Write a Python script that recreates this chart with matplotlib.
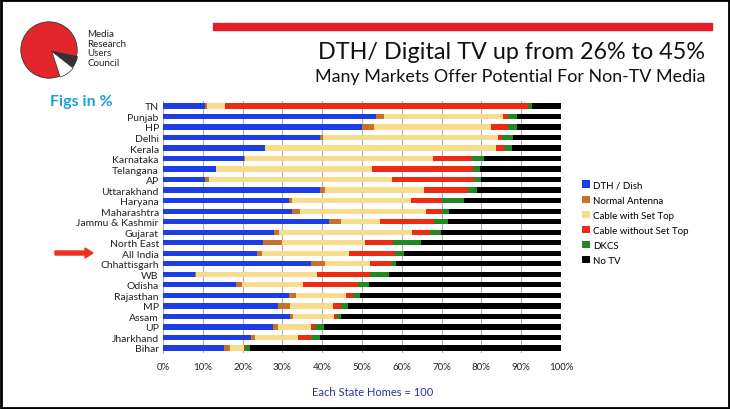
import numpy as np
import matplotlib
matplotlib.use("Agg")
import matplotlib.pyplot as plt
from matplotlib.patches import Rectangle, Wedge, Circle, FancyArrow

plt.rcParams['font.family'] = ['Lato', 'DejaVu Sans']

# DATA (percent of homes, each state = 100)
states = ["TN", "Punjab", "HP", "Delhi", "Kerala", "Karnataka", "Telangana", "AP",
          "Uttarakhand", "Haryana", "Maharashtra", "Jammu & Kashmir", "Gujarat",
          "North East", "All India", "Chhattisgarh", "WB", "Odisha", "Rajasthan",
          "MP", "Assam", "UP", "Jharkhand", "Bihar"]

dth_dish = [10.6, 53.5, 50.0, 39.4, 25.7, 20.3, 13.4, 10.5, 39.4, 31.7, 32.3, 41.7,
            27.8, 25.1, 23.5, 37.3, 8.0, 18.3, 31.7, 28.8, 31.8, 27.6, 22.2, 15.3]
normal_antenna = [0.4, 2.0, 3.1, 0.7, 0.0, 0.2, 0.0, 1.1, 1.3, 0.8, 2.2, 3.0,
                  1.4, 4.8, 1.4, 3.3, 0.4, 1.6, 1.7, 3.1, 0.9, 1.2, 1.0, 1.6]
cable_set_top = [4.7, 29.9, 29.2, 44.0, 58.0, 47.4, 39.2, 46.0, 24.9, 29.8, 31.6, 9.8,
                 33.3, 20.8, 21.9, 11.3, 30.2, 15.3, 12.5, 10.8, 10.3, 8.5, 10.8, 3.4]
cable_no_set_top = [76.0, 1.2, 4.5, 1.0, 2.3, 9.7, 25.2, 20.9, 11.1, 7.9, 4.1, 13.6,
                    4.5, 7.2, 11.6, 5.5, 13.5, 13.8, 1.8, 2.1, 0.8, 1.0, 3.1, 0.4]
dkcs = [1.0, 2.3, 2.1, 2.8, 1.7, 3.0, 1.9, 1.3, 2.3, 5.4, 1.6, 3.5,
        2.9, 6.9, 2.1, 1.2, 4.8, 2.8, 1.7, 1.7, 0.9, 2.2, 2.3, 1.1]
no_tv = [7.3, 11.1, 11.1, 12.1, 12.3, 19.4, 20.3, 20.2, 21.0, 24.4, 28.2, 28.4,
         30.1, 35.2, 39.5, 41.4, 43.1, 48.2, 50.6, 53.5, 55.3, 59.5, 60.6, 78.2]

series_names = ["DTH / Dish", "Normal Antenna", "Cable with Set Top",
                "Cable without Set Top", "DKCS", "No TV"]
series = [dth_dish, normal_antenna, cable_set_top, cable_no_set_top, dkcs, no_tv]
colors = ["#1c3ce6", "#c8702a", "#f8dc8e", "#ee2a12", "#1f8a22", "#000000"]

fig = plt.figure(figsize=(7.3, 4.1), dpi=100)
fig.patch.set_facecolor("white")

# main chart
ax = fig.add_axes([0.2233, 0.136, 0.5452, 0.616])
y = np.arange(len(states))
left = np.zeros(len(states))
for name, vals, col in zip(series_names, series, colors):
    vals = np.array(vals)
    ax.barh(y, vals, left=left, height=0.5, color=col, label=name, zorder=3)
    left += vals

ax.set_xlim(0, 100)
ax.set_ylim(len(states) - 0.5, -0.5)
ax.set_yticks(y)
ax.set_yticklabels(states, fontsize=7.5, color="#222222")
ax.set_xticks(np.arange(0, 101, 10))
ax.set_xticklabels([f"{v}%" for v in range(0, 101, 10)], fontsize=7, color="#222222")
ax.grid(axis="x", color="#b0b0b0", linewidth=0.8, zorder=0)
for s in ["top", "right", "bottom"]:
    ax.spines[s].set_visible(False)
ax.spines["left"].set_color("#b0b0b0")
ax.tick_params(axis="y", length=0, pad=3)
ax.tick_params(axis="x", length=0, pad=6)

fig.text(0.511, 0.043, "Each State Homes = 100", fontsize=8, color="#2e3192",
         ha="center", va="center")

# legend
handles, labels = ax.get_legend_handles_labels()
fig.legend(handles, labels, loc="upper left", bbox_to_anchor=(0.792, 0.567),
           frameon=False, fontsize=7, handlelength=0.8, handleheight=0.8,
           handletextpad=0.3, labelspacing=0.62, borderaxespad=0)

# header
fig.patches.append(Rectangle((213 / 730, 1 - 31 / 410), 499 / 730, 7 / 410,
                             transform=fig.transFigure, color="#e3202a"))
fig.text(0.966, 0.872, "DTH/ Digital TV up from 26% to 45%", fontsize=16.8,
         ha="right", va="center", color="#111111")
fig.text(0.966, 0.813, "Many Markets Offer Potential For Non-TV Media", fontsize=12.9,
         ha="right", va="center", color="#111111")
fig.text(0.068, 0.752, "Figs in %", fontsize=11.5, fontweight="bold",
         color="#1aa0dc", ha="left", va="center")

# logo
lax = fig.add_axes([18 / 730, 1 - 82 / 410, 62 / 730, 62 / 410])
lax.set_xlim(-1.1, 1.1)
lax.set_ylim(-1.1, 1.1)
lax.set_aspect("equal")
lax.axis("off")
lax.add_patch(Circle((0, 0), 1.0, facecolor="#e2262c", edgecolor="#333333", linewidth=0.6))
lax.add_patch(Wedge((0.1, -0.05), 0.92, -38, -12, color="#333333"))
lax.add_patch(Wedge((0.1, -0.05), 0.96, -72, -38, facecolor="white",
                    edgecolor="#333333", linewidth=0.5))
fig.text(87 / 730, 1 - 49 / 410, "Media\nResearch\nUsers\nCouncil", fontsize=7,
         ha="left", va="center", linespacing=1.05, color="#222222")

# arrow pointing at All India
fig.patches.append(FancyArrow(55 / 730, 1 - 254 / 410, 30 / 730, 0,
                              width=4 / 410, head_width=10 / 410, head_length=8 / 730,
                              transform=fig.transFigure, color="#e8321e",
                              length_includes_head=False))

# frame
fig.patches.append(Rectangle((0.001, 0.002), 0.997, 0.995, transform=fig.transFigure,
                             fill=False, edgecolor="black", linewidth=2))

fig.savefig("out.png", dpi=100)
